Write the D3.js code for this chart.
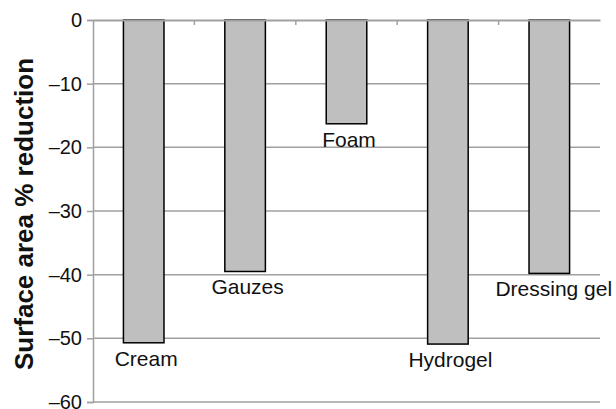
<!DOCTYPE html>
<html><head><meta charset="utf-8">
<script src="https://cdn.jsdelivr.net/npm/d3@7"></script>
<style>body{margin:0;background:#fff}svg{display:block}text{font-family:"Liberation Sans",Arial,sans-serif}</style>
</head><body>
<script>
const categories = ["Cream","Gauzes","Foam","Hydrogel","Dressing gel"];
const values = [-50.7,-39.5,-16.3,-50.9,-39.8];
const yTicks = [0,-10,-20,-30,-40,-50,-60];
const yTitle = "Surface area % reduction";

const W=616,H=409;
const m={left:93,right:16,top:20,bottom:7};
const svg=d3.select("body").append("svg").attr("width",W).attr("height",H);
const x=d3.scaleBand().domain(categories).range([m.left,W-m.right]).paddingInner(0).paddingOuter(0);
const y=d3.scaleLinear().domain([0,-60]).range([m.top,H-m.bottom]);
const grid="#a0a0a0";

// gridlines
svg.append("g").selectAll("line").data(yTicks.filter(d=>d!==0)).join("line")
  .attr("x1",m.left).attr("x2",W-m.right).attr("y1",d=>y(d)).attr("y2",d=>y(d))
  .attr("stroke",grid).attr("stroke-width",1.5);

// y axis
const ya=svg.append("g").attr("transform",`translate(${m.left},0)`)
  .call(d3.axisLeft(y).tickValues(yTicks).tickSize(6).tickPadding(5).tickFormat(d=>d===0?"0":"\u2013"+Math.abs(d)));
ya.select(".domain").attr("stroke",grid).attr("stroke-width",1.5);
ya.selectAll(".tick line").attr("stroke",grid).attr("stroke-width",1.5);
ya.selectAll(".tick text").attr("font-size",20).attr("fill","#111").style("font-family","Liberation Sans, Arial, sans-serif");

// bars
const bw=x.bandwidth()*0.4;
svg.append("g").selectAll("rect").data(categories).join("rect")
  .attr("x",(d)=>x(d)+x.bandwidth()/2-bw/2).attr("width",bw)
  .attr("y",y(0)).attr("height",(d,i)=>y(values[i])-y(0))
  .attr("fill","#bfbfbf").attr("stroke","#000").attr("stroke-width",1.5);

// top category axis
const xa=svg.append("g").attr("transform",`translate(0,${y(0)})`)
  .call(d3.axisBottom(x).tickSize(0).tickFormat(""));
xa.select(".domain").attr("stroke",grid).attr("stroke-width",2);
xa.selectAll(".tick").remove();
const bounds=categories.slice(1).map(c=>x(c));
svg.append("g").selectAll("line").data(bounds).join("line")
  .attr("x1",d=>d).attr("x2",d=>d).attr("y1",y(0)).attr("y2",y(0)+5)
  .attr("stroke",grid).attr("stroke-width",1.5);

// category labels
svg.append("g").selectAll("text").data(categories).join("text")
  .attr("x",d=>x(d)+x.bandwidth()/2+(d==="Dressing gel"?4.5:2.5))
  .attr("y",(d,i)=>y(values[i])+23)
  .attr("text-anchor","middle").attr("font-size",21).attr("fill","#111").text(d=>d);

// y title
svg.append("text").attr("transform",`translate(33,214) rotate(-90)`)
  .attr("text-anchor","middle").attr("font-size",26).attr("font-weight","bold").attr("fill","#111").text(yTitle);
</script>
</body></html>
